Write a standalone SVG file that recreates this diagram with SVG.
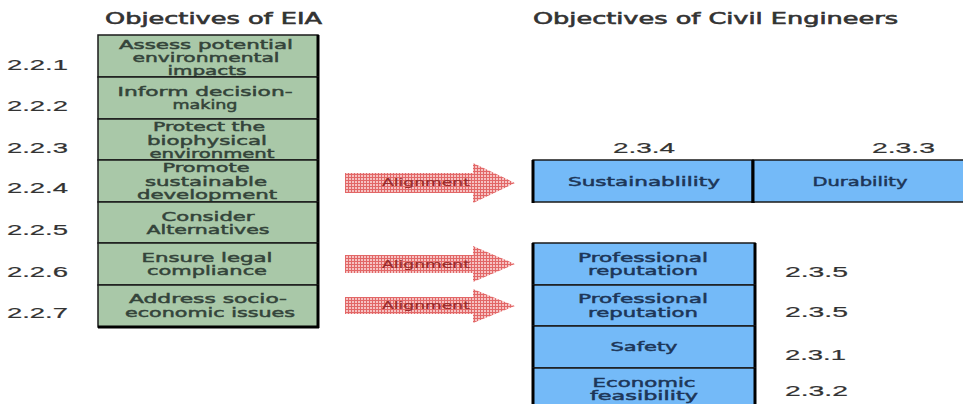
<svg xmlns="http://www.w3.org/2000/svg" width="963" height="404" viewBox="0 0 963 404">
<defs>
  <pattern id="chk" width="3" height="3" patternUnits="userSpaceOnUse">
    <rect width="3" height="3" fill="#f6c2c2"/>
    <rect width="3" height="1" fill="#e26767"/>
    <rect width="1" height="3" fill="#e26767"/>
  </pattern>
  <style>
    .title{font-family:"DejaVu Sans",Verdana,sans-serif;font-size:15px;fill:#333333;stroke:#333333;stroke-width:0.55}
    .lbl{font-family:"Liberation Sans",Arial,sans-serif;font-size:14px;fill:#333333;stroke:#333333;stroke-width:0.2}
    .g rect{fill:#a9c8a8;stroke:#1a1a1a;stroke-width:1.5}
    .b rect{fill:#74baf8;stroke:#1a1a1a;stroke-width:1.5}
    .edge{stroke:#000;stroke-width:3;fill:none}
    .gt{font-family:"DejaVu Sans",Verdana,sans-serif;font-size:12px;fill:#34443a;stroke:#34443a;stroke-width:0.45;text-anchor:middle}
    .bt{font-family:"DejaVu Sans",Verdana,sans-serif;font-size:12px;fill:#1d3658;stroke:#1d3658;stroke-width:0.45;text-anchor:middle}
    .arr{fill:url(#chk)}
    .at{font-family:"DejaVu Sans",Verdana,sans-serif;font-size:10px;fill:#9a2a2a;stroke:#9a2a2a;stroke-width:0.2;text-anchor:middle}
  </style>
</defs>
<rect width="963" height="404" fill="#ffffff"/>

<g id="titles">
  <text class="title" x="105" y="24" textLength="217" lengthAdjust="spacingAndGlyphs">Objectives of EIA</text>
  <text class="title" x="533" y="24" textLength="365" lengthAdjust="spacingAndGlyphs">Objectives of Civil Engineers</text>
</g>

<g id="left-labels">
  <text class="lbl" x="7" y="70" textLength="61" lengthAdjust="spacingAndGlyphs">2.2.1</text>
  <text class="lbl" x="7" y="111" textLength="61" lengthAdjust="spacingAndGlyphs">2.2.2</text>
  <text class="lbl" x="7" y="153" textLength="61" lengthAdjust="spacingAndGlyphs">2.2.3</text>
  <text class="lbl" x="7" y="193" textLength="61" lengthAdjust="spacingAndGlyphs">2.2.4</text>
  <text class="lbl" x="7" y="235" textLength="61" lengthAdjust="spacingAndGlyphs">2.2.5</text>
  <text class="lbl" x="7" y="277" textLength="61" lengthAdjust="spacingAndGlyphs">2.2.6</text>
  <text class="lbl" x="7" y="318" textLength="61" lengthAdjust="spacingAndGlyphs">2.2.7</text>
</g>

<g id="eia-1" class="g">
  <rect x="98" y="35" width="220" height="42"/>
  <path class="edge" d="M318 35V77"/>
  <text class="gt" x="206" y="49" textLength="174" lengthAdjust="spacingAndGlyphs">Assess potential</text>
  <text class="gt" x="206" y="62" textLength="147" lengthAdjust="spacingAndGlyphs">environmental</text>
  <text class="gt" x="207" y="75" textLength="79" lengthAdjust="spacingAndGlyphs">impacts</text>
</g>
<g id="eia-2" class="g">
  <rect x="98" y="77" width="220" height="42"/>
  <path class="edge" d="M318 77V119"/>
  <text class="gt" x="205" y="96" textLength="175" lengthAdjust="spacingAndGlyphs">Inform decision-</text>
  <text class="gt" x="205" y="109" textLength="65" lengthAdjust="spacingAndGlyphs">making</text>
</g>
<g id="eia-3" class="g">
  <rect x="98" y="119" width="220" height="41"/>
  <path class="edge" d="M318 119V160"/>
  <text class="gt" x="209" y="131" textLength="112" lengthAdjust="spacingAndGlyphs">Protect the</text>
  <text class="gt" x="207" y="145" textLength="120" lengthAdjust="spacingAndGlyphs">biophysical</text>
  <text class="gt" x="212" y="158" textLength="125" lengthAdjust="spacingAndGlyphs">environment</text>
</g>
<g id="eia-4" class="g">
  <rect x="98" y="160" width="220" height="42"/>
  <path class="edge" d="M318 160V202"/>
  <text class="gt" x="206" y="172" textLength="87" lengthAdjust="spacingAndGlyphs">Promote</text>
  <text class="gt" x="206" y="186" textLength="122" lengthAdjust="spacingAndGlyphs">sustainable</text>
  <text class="gt" x="207" y="199" textLength="140" lengthAdjust="spacingAndGlyphs">development</text>
</g>
<g id="eia-5" class="g">
  <rect x="98" y="202" width="220" height="41"/>
  <path class="edge" d="M318 202V243"/>
  <text class="gt" x="208" y="221" textLength="93" lengthAdjust="spacingAndGlyphs">Consider</text>
  <text class="gt" x="208" y="234" textLength="123" lengthAdjust="spacingAndGlyphs">Alternatives</text>
</g>
<g id="eia-6" class="g">
  <rect x="98" y="243" width="220" height="42"/>
  <path class="edge" d="M318 243V285"/>
  <text class="gt" x="207" y="262" textLength="131" lengthAdjust="spacingAndGlyphs">Ensure legal</text>
  <text class="gt" x="207" y="275" textLength="120" lengthAdjust="spacingAndGlyphs">compliance</text>
</g>
<g id="eia-7" class="g">
  <rect x="98" y="285" width="220" height="42"/>
  <path class="edge" d="M318 285V328M98 327H319"/>
  <text class="gt" x="208" y="303" textLength="158" lengthAdjust="spacingAndGlyphs">Address socio-</text>
  <text class="gt" x="210" y="317" textLength="170" lengthAdjust="spacingAndGlyphs">economic issues</text>
</g>

<g id="connectors">
  <g id="align-1">
    <path class="arr" d="M345 173H473V163L515 183L473 203V193H345Z"/>
    <text class="at" x="426" y="186" textLength="88" lengthAdjust="spacingAndGlyphs">Alignment</text>
  </g>
  <g id="align-2">
    <path class="arr" d="M345 255H473V246L515 264L473 282V273H345Z"/>
    <text class="at" x="426" y="268" textLength="88" lengthAdjust="spacingAndGlyphs">Alignment</text>
  </g>
  <g id="align-3">
    <path class="arr" d="M345 297H473V289L515 306L473 323V314H345Z"/>
    <text class="at" x="426" y="309" textLength="88" lengthAdjust="spacingAndGlyphs">Alignment</text>
  </g>
</g>

<g id="right-labels">
  <text class="lbl" x="613" y="153" textLength="62" lengthAdjust="spacingAndGlyphs">2.3.4</text>
  <text class="lbl" x="872" y="153" textLength="63" lengthAdjust="spacingAndGlyphs">2.3.3</text>
  <text class="lbl" x="785" y="277" textLength="63" lengthAdjust="spacingAndGlyphs">2.3.5</text>
  <text class="lbl" x="785" y="317" textLength="63" lengthAdjust="spacingAndGlyphs">2.3.5</text>
  <text class="lbl" x="785" y="360" textLength="61" lengthAdjust="spacingAndGlyphs">2.3.1</text>
  <text class="lbl" x="785" y="396" textLength="63" lengthAdjust="spacingAndGlyphs">2.3.2</text>
</g>

<g id="ce-sustainability" class="b">
  <rect x="533" y="160" width="220" height="42"/>
  <path class="edge" d="M533 160V203M753 160V203"/>
  <text class="bt" x="644" y="186" textLength="152" lengthAdjust="spacingAndGlyphs">Sustainablility</text>
</g>
<g id="ce-durability" class="b">
  <rect x="753" y="160" width="215" height="42"/>
  <path class="edge" d="M753 160V203"/>
  <text class="bt" x="860" y="186" textLength="95" lengthAdjust="spacingAndGlyphs">Durability</text>
</g>
<g id="ce-reputation-1" class="b">
  <rect x="533" y="243" width="222" height="42"/>
  <path class="edge" d="M533 243V285M755 243V285"/>
  <text class="bt" x="643" y="262" textLength="130" lengthAdjust="spacingAndGlyphs">Professional</text>
  <text class="bt" x="643" y="275" textLength="110" lengthAdjust="spacingAndGlyphs">reputation</text>
</g>
<g id="ce-reputation-2" class="b">
  <rect x="533" y="285" width="222" height="41"/>
  <path class="edge" d="M533 285V326M755 285V326"/>
  <text class="bt" x="643" y="303" textLength="130" lengthAdjust="spacingAndGlyphs">Professional</text>
  <text class="bt" x="643" y="317" textLength="110" lengthAdjust="spacingAndGlyphs">reputation</text>
</g>
<g id="ce-safety" class="b">
  <rect x="533" y="326" width="222" height="42"/>
  <path class="edge" d="M533 326V368M755 326V368"/>
  <text class="bt" x="644" y="351" textLength="67" lengthAdjust="spacingAndGlyphs">Safety</text>
</g>
<g id="ce-economic" class="b">
  <rect x="533" y="368" width="222" height="44"/>
  <path class="edge" d="M533 368V410M755 368V410"/>
  <text class="bt" x="644" y="387" textLength="103" lengthAdjust="spacingAndGlyphs">Economic</text>
  <text class="bt" x="644" y="400" textLength="108" lengthAdjust="spacingAndGlyphs">feasibility</text>
</g>
</svg>
